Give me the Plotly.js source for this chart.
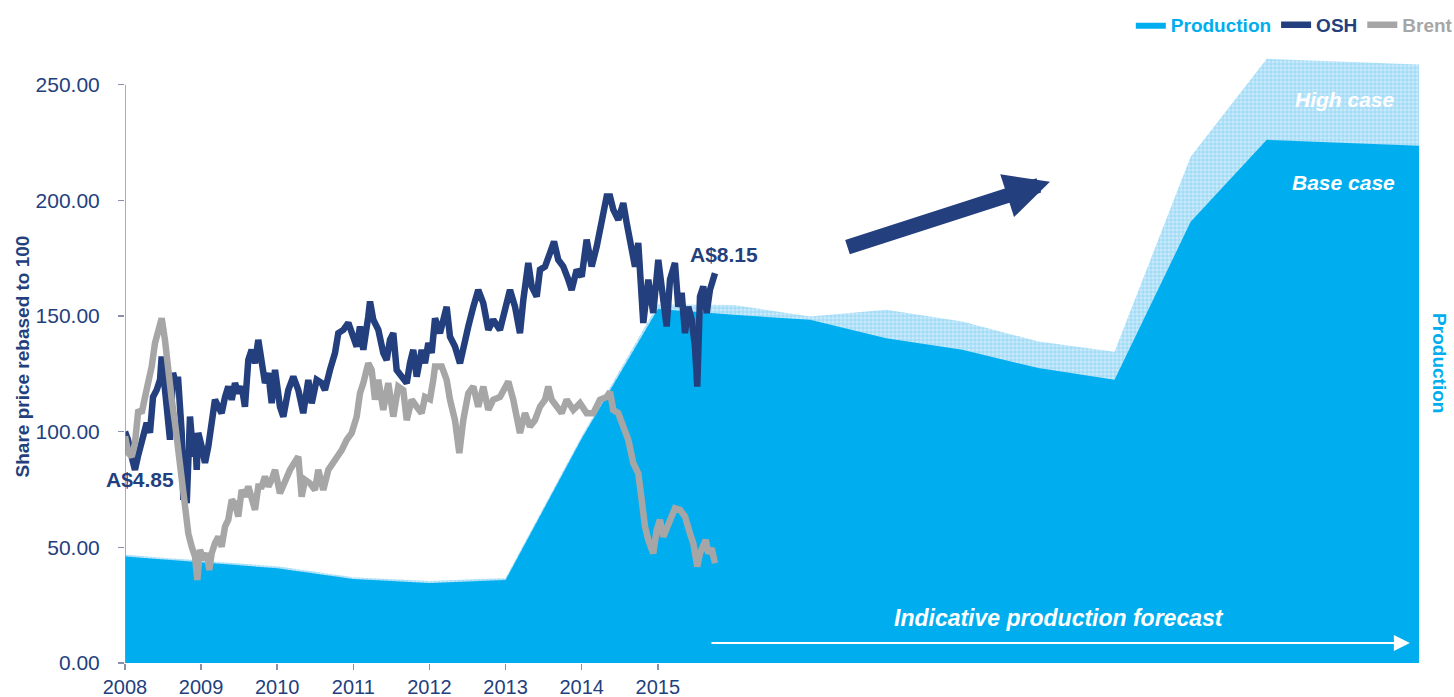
<!DOCTYPE html>
<html>
<head>
<meta charset="utf-8">
<script src="https://cdn.plot.ly/plotly-3.0.1.min.js"></script>
<style>
  html, body { margin: 0; padding: 0; background: #ffffff; }
  #chart { width: 1454px; height: 697px; }
</style>
</head>
<body>
<div id="chart"></div>
<script>
// ---------------- DATA ----------------
const tickYears = [2008, 2009, 2010, 2011, 2012, 2013, 2014, 2015];
const yTicks = [0, 50, 100, 150, 200, 250];

// Production (indicative), yearly points
const prodYears = [2008, 2009, 2010, 2011, 2012, 2013, 2014, 2015, 2016, 2017, 2018, 2019, 2020, 2021, 2022, 2023, 2024, 2025];
const baseCase  = [46, 43.5, 41, 36.3, 34.6, 35.9, 97, 153, 150.5, 148.4, 140.4, 135.4, 127.5, 122.4, 190.7, 226.2, 225, 223.6];
const highCase  = [46.8, 44.3, 41.8, 37.1, 35.4, 36.7, 98, 155, 154.8, 149.8, 152.7, 147.6, 139, 134.5, 218.9, 261.2, 259.9, 258.7];

// OSH share price, rebased to 100
const oshYears = [2008.000,2008.039,2008.088,2008.131,2008.171,2008.236,2008.285,2008.328,2008.368,2008.416,2008.460,2008.482,2008.525,2008.565,2008.591,2008.631,2008.679,2008.696,2008.723,2008.745,2008.766,2008.788,2008.811,2008.832,2008.854,2008.897,2008.920,2008.942,2008.963,
  2009.008,2009.051,2009.094,2009.139,2009.182,2009.226,2009.270,2009.314,2009.357,2009.402,2009.445,2009.488,2009.533,2009.576,2009.620,2009.664,2009.708,2009.751,2009.796,2009.839,2009.883,2009.927,2009.971,
  2010.036,2010.080,2010.145,2010.211,2010.277,2010.342,2010.408,2010.453,2010.518,2010.584,2010.627,2010.693,2010.759,2010.802,2010.868,2010.934,2010.978,
  2011.044,2011.087,2011.131,2011.196,2011.219,2011.262,2011.328,2011.393,2011.438,2011.481,2011.525,2011.569,2011.635,2011.701,2011.744,2011.787,2011.832,2011.898,2011.941,2011.985,
  2012.029,2012.073,2012.138,2012.226,2012.270,2012.335,2012.401,2012.444,2012.510,2012.576,2012.641,2012.707,2012.773,2012.838,2012.926,2012.992,
  2013.058,2013.124,2013.189,2013.233,2013.298,2013.343,2013.409,2013.452,2013.518,2013.583,2013.636,2013.692,2013.758,2013.824,2013.868,2013.934,
  2014.000,2014.065,2014.131,2014.197,2014.263,2014.328,2014.372,2014.415,2014.481,2014.546,2014.591,2014.657,2014.700,2014.743,2014.788,2014.809,2014.875,2014.940,
  2015.006,2015.051,2015.116,2015.160,2015.225,2015.269,2015.313,2015.357,2015.400,2015.445,2015.488,2015.518,2015.554,2015.597,2015.642,2015.685,2015.729,2015.751];
const oshValues = [100,96.5,89,83.5,89.5,96.5,103.8,99.5,115,118,122.4,132.5,116.8,106.5,96.5,125.4,119.5,123.8,113.8,99.5,70.5,92,69,102,106.5,89.2,99.5,83.5,99.5,
  93.5,86.5,93.5,102,113.8,110.8,108,115,119.5,113.8,121,116.6,119.5,110.8,131,135.4,129.6,139.7,128.2,121,125.3,112.3,126.7,
  110.8,106.5,118,123.8,118,108,122.4,112.3,122.4,121,118,126.7,134,142.6,144,147,142.6,
  136.8,145.5,135.4,149.8,156.3,148.4,144,134,131,139.7,142.6,126.7,123.8,121,129.6,135.4,123.8,135.4,129.6,138.3,
  134,149,142.6,154,141,136.8,129.6,136.8,145.5,154,161.3,155.6,144,148.4,144,152.7,
  161.3,154,142.6,157,172.9,162.8,158.4,170,171.4,177.2,182.2,174.3,171.4,165.7,161.3,170,
  167,183,171.4,180,190.2,201.7,201.7,196,191.6,198.8,190.2,180,171.4,181.6,161.3,147,165.7,151.3,
  174.3,161.3,145.5,165.7,172.9,154,160,142.6,154,148.4,136.8,119.5,158.4,162.8,151.3,161.3,165.7,168.5];

// Brent oil price, rebased to 100
const brentYears = [2008.000,2008.043,2008.088,2008.131,2008.175,2008.219,2008.263,2008.306,2008.351,2008.394,2008.437,2008.482,2008.525,2008.569,2008.614,2008.657,2008.700,2008.745,2008.788,2008.832,2008.876,2008.920,2008.950,2008.985,
  2009.029,2009.073,2009.107,2009.139,2009.182,2009.226,2009.270,2009.314,2009.357,2009.402,2009.445,2009.488,2009.533,2009.576,2009.620,2009.664,2009.708,2009.751,2009.796,2009.839,2009.883,2009.927,2009.971,
  2010.036,2010.102,2010.168,2010.233,2010.277,2010.321,2010.365,2010.430,2010.496,2010.539,2010.605,2010.671,2010.736,2010.802,2010.847,2010.913,2010.978,
  2011.044,2011.087,2011.131,2011.196,2011.241,2011.284,2011.328,2011.393,2011.459,2011.525,2011.590,2011.656,2011.701,2011.766,2011.832,2011.898,2011.941,
  2012.007,2012.050,2012.073,2012.161,2012.226,2012.270,2012.335,2012.392,2012.444,2012.510,2012.576,2012.641,2012.707,2012.773,2012.838,2012.926,2012.992,
  2013.036,2013.101,2013.189,2013.255,2013.320,2013.386,2013.452,2013.518,2013.561,2013.606,2013.671,2013.737,2013.803,2013.890,2013.977,
  2014.065,2014.152,2014.240,2014.328,2014.372,2014.415,2014.481,2014.546,2014.612,2014.678,2014.743,2014.788,2014.831,2014.875,2014.940,2014.985,
  2015.028,2015.072,2015.137,2015.225,2015.291,2015.357,2015.423,2015.466,2015.518,2015.554,2015.629,2015.663,2015.707,2015.751];
const brentValues = [98,90.8,89.2,95,109.4,108,115,121,128.2,138.3,142.6,149,139.7,123.8,113.8,103.7,92,80.6,67.6,56,50.3,46,35.9,48.9,
  44.6,47.4,40.2,47.4,51.8,54.6,50.3,59,61.9,70.5,69,63.3,74.8,71.9,76.3,70.5,66.2,76.3,76.3,80.6,76.3,79.2,83.5,
  73.4,79.2,83.5,87,89.2,71.9,79.2,77.7,74.8,83.5,74.8,83.5,86.4,89.2,92,96.5,99.4,
  106.5,116.6,121,129.6,126.7,113.8,122.4,109.4,121,106.5,119.5,118,105,113.8,110.8,108,115,
  114,122.4,128.2,128.2,122.4,113.8,105,90.7,105,116.6,119.5,110.8,119.5,109.4,113.8,115,119.5,
  121.7,113.8,99.4,108,102.2,105,110.8,113.8,119.5,113.8,110.8,108,113.8,109.4,112.3,
  108,108,113.8,115,117.2,109.4,108,102.2,96.5,86.4,82,70.5,59,53.2,47.4,57.5,
  61.9,54.6,60.4,66.9,66.2,63.3,56,51.8,41.7,47.4,53.2,47.4,49.6,43.1];

// ---------------- STYLE ----------------
const NAVY = '#243F7E';
const CYAN = '#00AEEF';
const GREY = '#A6A6A6';
const AXIS = '#8B8FAB';
const FONT = '"Liberation Sans", Arial, Helvetica, sans-serif';
const Y_RANGE = [0, 265];

const traces = [
  { // high case (hatched)
    x: prodYears, y: highCase, type: 'scatter', mode: 'lines',
    fill: 'tozeroy', fillcolor: '#C4E8F9',
    fillpattern: { shape: '+', size: 4, solidity: 0.35, fgcolor: '#8FD4F4', bgcolor: '#C9EAFA' },
    line: { width: 0, color: '#C4E8F9' }, showlegend: false, hoverinfo: 'skip'
  },
  { // base case
    x: prodYears, y: baseCase, type: 'scatter', mode: 'lines',
    name: '<span style="color:' + CYAN + '">Production</span>',
    fill: 'tozeroy', fillcolor: CYAN, line: { width: 0, color: CYAN }
  },
  {
    x: oshYears, y: oshValues, type: 'scatter', mode: 'lines',
    name: '<span style="color:' + NAVY + '">OSH</span>',
    line: { color: NAVY, width: 6.5 }
  },
  {
    x: brentYears, y: brentValues, type: 'scatter', mode: 'lines',
    name: '<span style="color:' + GREY + '">Brent</span>',
    line: { color: GREY, width: 6.5 }
  }
];

const xStart = tickYears[0];
const xEnd = prodYears[prodYears.length - 1];

const layout = {
  width: 1454, height: 697,
  paper_bgcolor: '#ffffff', plot_bgcolor: '#ffffff',
  margin: { l: 125, r: 35, t: 50, b: 34, autoexpand: false },
  font: { family: FONT, color: NAVY },
  hovermode: false,
  showlegend: true,
  legend: {
    orientation: 'h', x: 1.03, xanchor: 'right', y: 1.041, yanchor: 'middle',
    font: { family: FONT, size: 19, weight: 'bold', color: NAVY },
    bgcolor: 'rgba(0,0,0,0)', traceorder: 'normal'
  },
  xaxis: {
    range: [xStart, xEnd], tickmode: 'array', tickvals: tickYears, ticktext: tickYears.map(String),
    showgrid: false, zeroline: false, showline: false,
    ticks: 'outside', ticklen: 6, tickcolor: AXIS, tickwidth: 1.5,
    ticklabelstandoff: 0,
    tickfont: { family: FONT, size: 20, color: NAVY }
  },
  yaxis: {
    range: Y_RANGE, tickmode: 'array', tickvals: yTicks, tickformat: '.2f',
    showgrid: false, zeroline: false, showline: false,
    ticks: 'outside', ticklen: 6, tickcolor: AXIS, tickwidth: 1.5,
    ticklabelstandoff: 14,
    tickfont: { family: FONT, size: 21, color: NAVY },
    title: { text: 'Share price rebased to 100', standoff: 0,
             font: { family: FONT, size: 19, weight: 'bold', color: NAVY } }
  },
  shapes: [
    { type: 'line', xref: 'x', yref: 'y', x0: xStart, x1: xStart, y0: 0, y1: yTicks[yTicks.length - 1],
      line: { color: AXIS, width: 1.5 }, layer: 'above' },
    { type: 'line', xref: 'x', yref: 'y', x0: xStart - 0.09, x1: 2015.46, y0: 0, y1: 0,
      line: { color: AXIS, width: 1.5 }, layer: 'below' }
  ],
  annotations: [
    { xref: 'x', yref: 'y', x: 2008.2, y: 79.2, text: '<b>A$4.85</b>', showarrow: false,
      font: { family: FONT, size: 21, color: NAVY } },
    { xref: 'x', yref: 'y', x: 2015.87, y: 176.5, text: '<b>A$8.15</b>', showarrow: false,
      font: { family: FONT, size: 21, color: NAVY } },
    { xref: 'x', yref: 'y', x: 2024.71, xanchor: 'right', y: 243.5, text: '<b><i>High case</i></b>', showarrow: false,
      font: { family: FONT, size: 21, color: '#ffffff' } },
    { xref: 'x', yref: 'y', x: 2024.71, xanchor: 'right', y: 207.6, text: '<b><i>Base case</i></b>', showarrow: false,
      font: { family: FONT, size: 21, color: '#ffffff' } },
    { xref: 'x', yref: 'y', x: 2020.27, y: 19.5, text: '<b><i>Indicative production forecast</i></b>', showarrow: false,
      font: { family: FONT, size: 23, color: '#ffffff' } },
    { xref: 'x', yref: 'y', x: 2024.88, y: 8.65, axref: 'x', ayref: 'y', ax: 2015.685, ay: 8.65,
      text: '', showarrow: true, arrowhead: 2, arrowsize: 1.6, arrowwidth: 2, arrowcolor: '#ffffff' },
    { xref: 'x', yref: 'y', x: 2020.152, y: 208, axref: 'x', ayref: 'y', ax: 2017.472, ay: 179.6,
      text: '', showarrow: true, arrowhead: 2, arrowsize: 0.6, arrowwidth: 15, arrowcolor: NAVY },
    { xref: 'paper', yref: 'paper', x: 1.026, y: 0.489, text: '<b>Production</b>', textangle: 90,
      showarrow: false, font: { family: FONT, size: 19, color: CYAN } }
  ]
};

Plotly.newPlot('chart', traces, layout, { displayModeBar: false, staticPlot: true });
</script>
</body>
</html>
